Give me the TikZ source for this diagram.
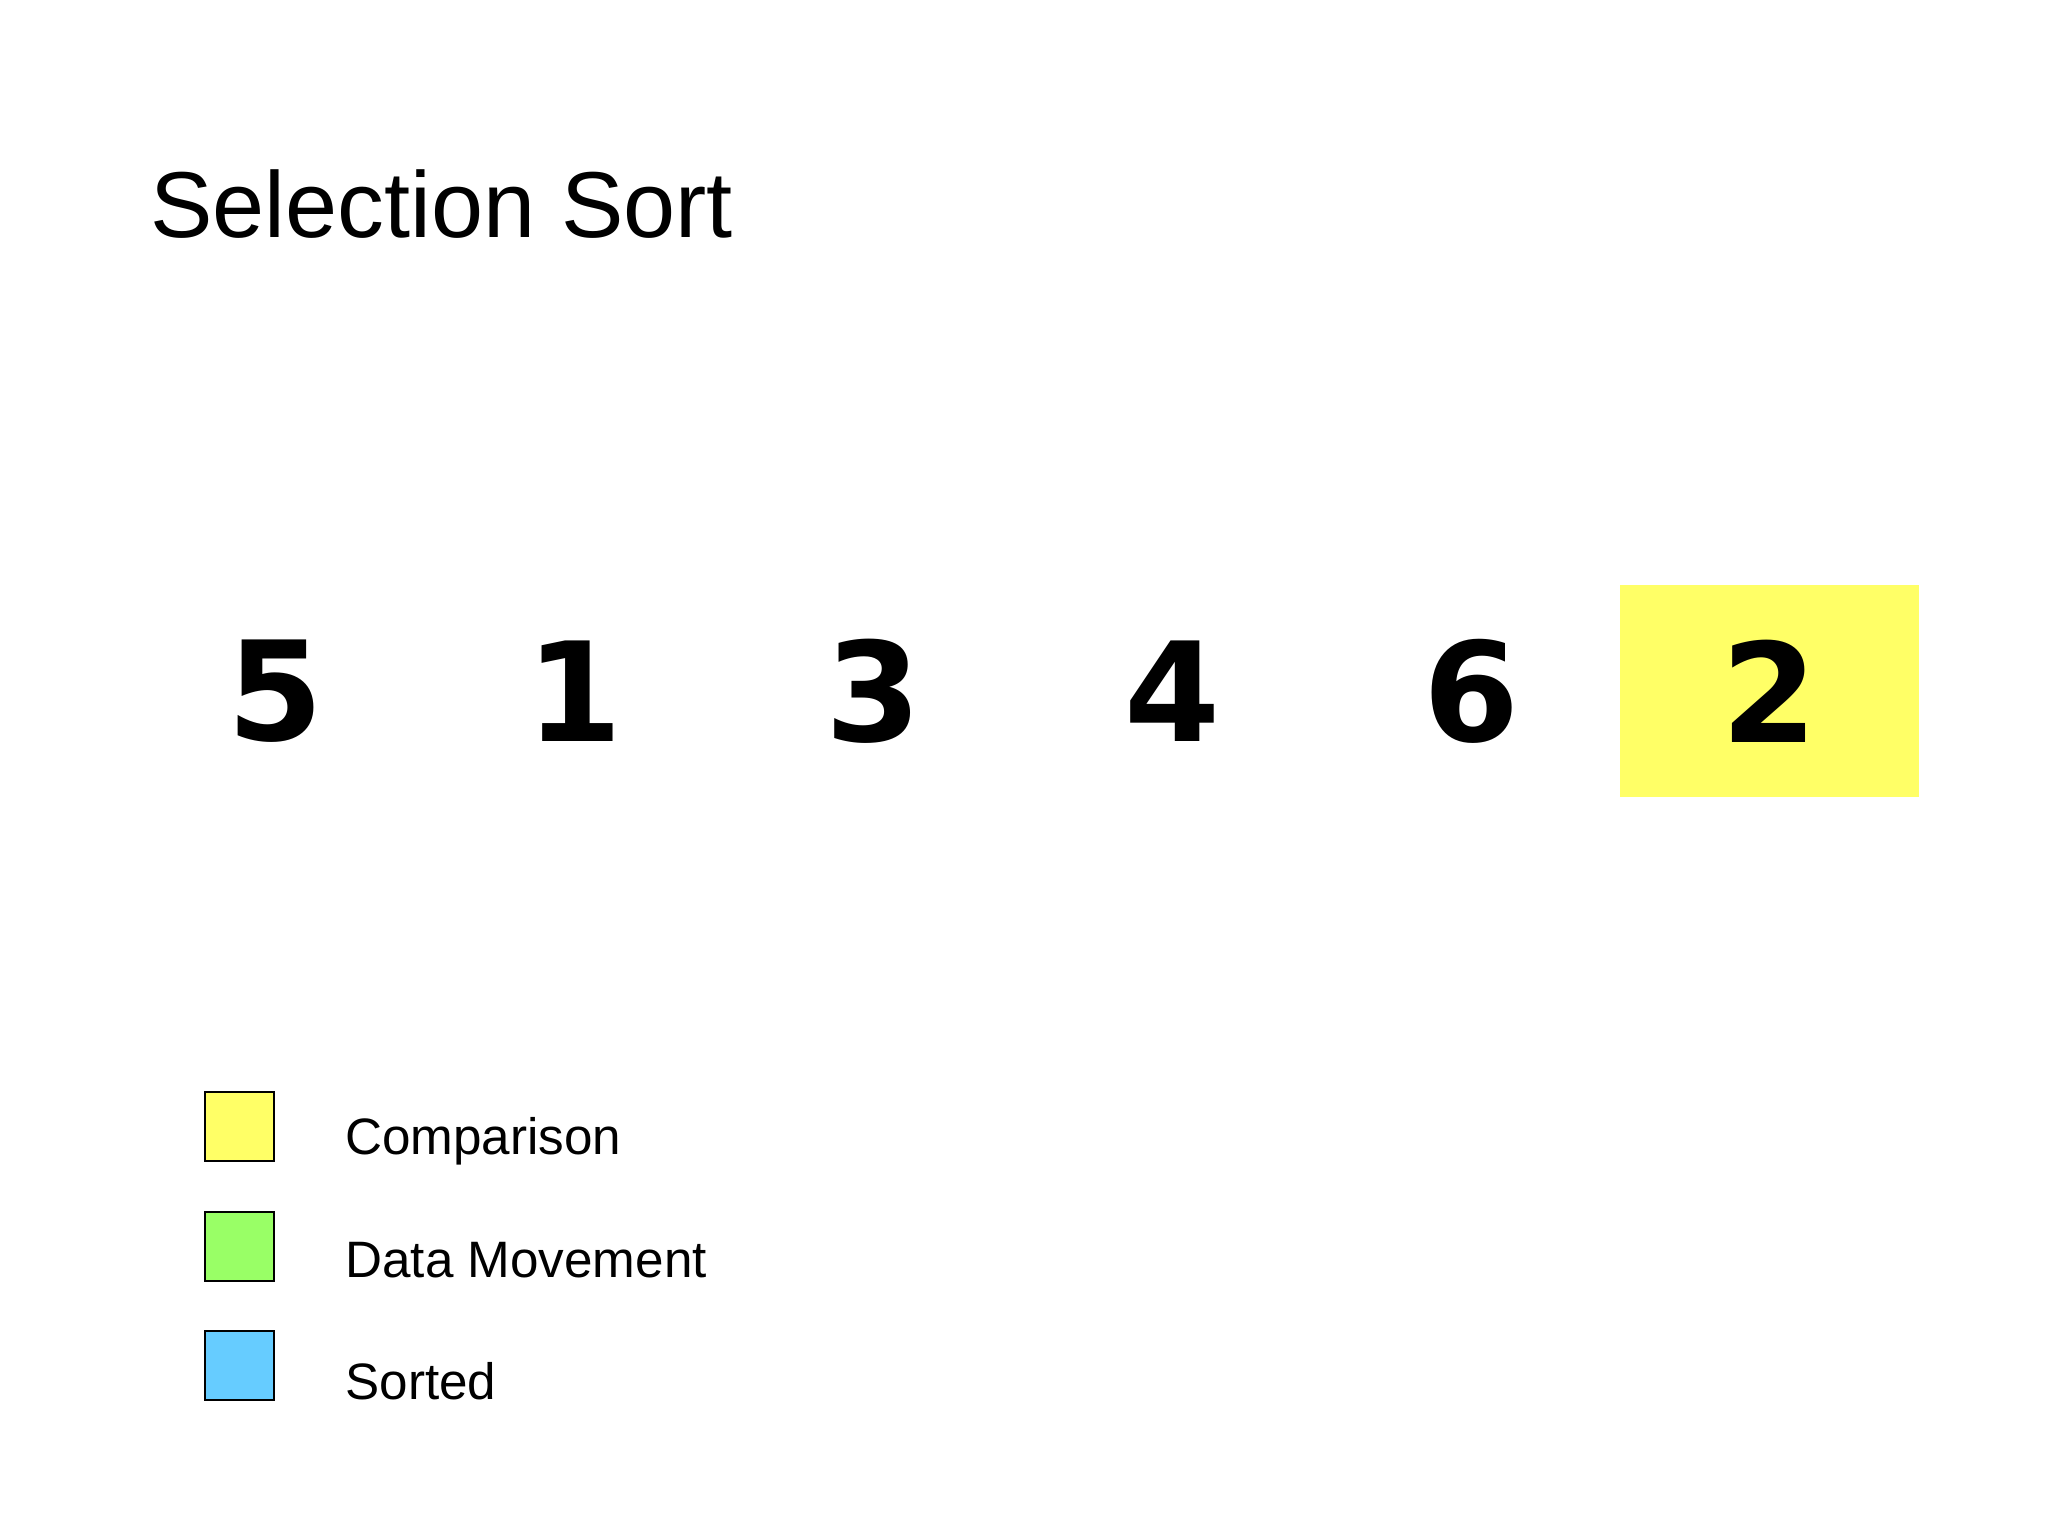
\documentclass[tikz,border=0pt]{standalone}
\usepackage{fontspec}
\setmainfont{Liberation Sans}
\newfontfamily\digitfont{DejaVu Sans}
\definecolor{cmpyellow}{HTML}{FFFF66}
\definecolor{movegreen}{HTML}{99FF66}
\definecolor{sortblue}{HTML}{66CCFF}
\begin{document}
\begin{tikzpicture}[x=0.5bp,y=-0.5bp,
  cell/.style={minimum width=149.5bp,minimum height=106bp,inner sep=0pt,
    font=\digitfont\bfseries\fontsize{69bp}{74bp}\selectfont},
  legbox/.style={draw=black,line width=1bp,minimum width=34.5bp,minimum height=34.5bp,inner sep=0pt},
  legtext/.style={anchor=base west,inner sep=0pt,font=\fontsize{25.6bp}{30bp}\selectfont},
  titletext/.style={anchor=base west,inner sep=0pt,font=\fontsize{46.8bp}{55bp}\selectfont}]
\useasboundingbox (0,0) rectangle (2048,1536);
\fill[white] (0,0) rectangle (2048,1536);
\node[titletext] (title) at (150,237) {Selection Sort};
\node[cell] (c1) at (275.5,691) {5};
\node[cell] (c2) at (574.5,691) {1};
\node[cell] (c3) at (873.5,691) {3};
\node[cell] (c4) at (1172.5,691) {4};
\node[cell] (c5) at (1471.5,691) {6};
\node[cell,fill=cmpyellow] (c6) at (1769.5,691) {2};
\node[legbox,fill=cmpyellow] (l1) at (239,1126.5) {};
\node[legbox,fill=movegreen] (l2) at (239,1246) {};
\node[legbox,fill=sortblue] (l3) at (239,1365.5) {};
\node[legtext] (t1) at (345,1154) {Comparison};
\node[legtext] (t2) at (345,1277) {Data Movement};
\node[legtext] (t3) at (345,1399) {Sorted};
\end{tikzpicture}
\end{document}
